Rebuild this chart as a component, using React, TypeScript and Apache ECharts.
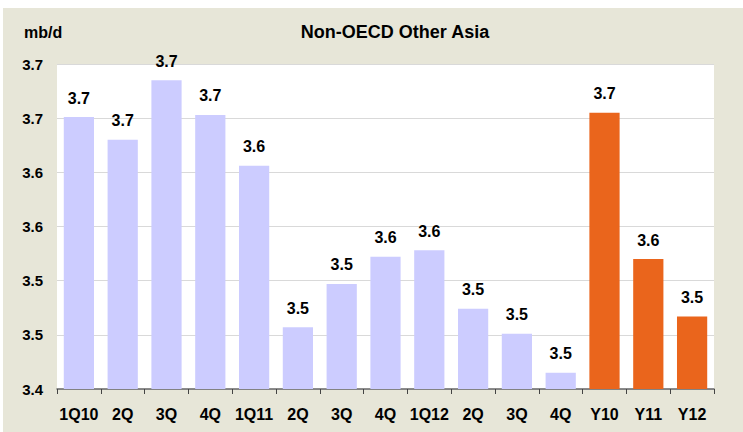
import React, { useEffect, useRef } from "react";
import * as echarts from "echarts";

const categories = ["1Q10", "2Q", "3Q", "4Q", "1Q11", "2Q", "3Q", "4Q", "1Q12", "2Q", "3Q", "4Q", "Y10", "Y11", "Y12"];
const quarterlyValues = [3.691, 3.670, 3.725, 3.693, 3.646, 3.497, 3.537, 3.562, 3.568, 3.514, 3.491, 3.455];
const annualValues = [3.695, 3.560, 3.507];
const yTicks = [3.44, 3.49, 3.54, 3.59, 3.64, 3.69, 3.74];
const yMin = 3.44;
const yMax = 3.74;
const titleText = "Non-OECD Other Asia";
const unitText = "mb/d";

const QUARTER_COLOR = "#CCCCFF";
const ANNUAL_COLOR = "#EA651C";
const FONT = "'Liberation Sans', Arial, sans-serif";

export default function App() {
  const ref = useRef<HTMLDivElement>(null);

  useEffect(() => {
    if (!ref.current) return;
    const chart = echarts.init(ref.current, null, { renderer: "svg" });
    const data = [
      ...quarterlyValues.map((v) => ({ value: v, itemStyle: { color: QUARTER_COLOR } })),
      ...annualValues.map((v) => ({ value: v, itemStyle: { color: ANNUAL_COLOR } })),
    ];
    chart.setOption({
      animation: false,
      backgroundColor: "#E7E6D8",
      textStyle: { fontFamily: FONT },
      title: {
        text: titleText,
        left: 392,
        top: 15,
        textAlign: "center",
        padding: 0,
        textStyle: { fontSize: 18, fontWeight: "bold", color: "#000", fontFamily: FONT },
      },
      graphic: [
        {
          type: "text",
          left: 21,
          top: 16,
          style: { text: unitText, fontSize: 16, fontWeight: "bold", fill: "#000", fontFamily: FONT },
        },
      ],
      grid: {
        left: 54,
        top: 56,
        right: 29,
        bottom: 43,
        show: true,
        backgroundColor: "#FFFFFF",
        borderWidth: 0,
        containLabel: false,
      },
      xAxis: {
        type: "category",
        data: categories,
        axisLine: { lineStyle: { color: "#666", width: 1.5 } },
        axisTick: { show: true, length: 5, lineStyle: { color: "#444" } },
        axisLabel: { margin: 17, fontSize: 16, fontWeight: "bold", color: "#000", fontFamily: FONT, interval: 0 },
        splitLine: { show: false },
      },
      yAxis: {
        type: "value",
        min: yMin,
        max: yMax,
        axisLine: { show: false },
        axisTick: { show: false, customValues: yTicks },
        axisLabel: {
          customValues: yTicks,
          margin: 14,
          fontSize: 15,
          fontWeight: "bold",
          color: "#000",
          fontFamily: FONT,
          formatter: (v: number) => v.toFixed(1),
        },
        splitLine: { show: true, lineStyle: { color: "#D9D9D9", width: 1 } },
      },
      series: [
        {
          type: "bar",
          data,
          barCategoryGap: "31%",
          label: {
            show: true,
            position: "top",
            distance: 11,
            fontSize: 16,
            fontWeight: "bold",
            color: "#000",
            fontFamily: FONT,
            formatter: (p: any) => Number(p.value).toFixed(1),
          },
        },
      ],
    });
    return () => chart.dispose();
  }, []);

  return (
    <div style={{ position: "fixed", left: 0, top: 0, width: 743, height: 432, background: "#FFFFFF" }}>
      <div ref={ref} style={{ position: "absolute", left: 3, top: 8, width: 740, height: 424 }} />
    </div>
  );
}
